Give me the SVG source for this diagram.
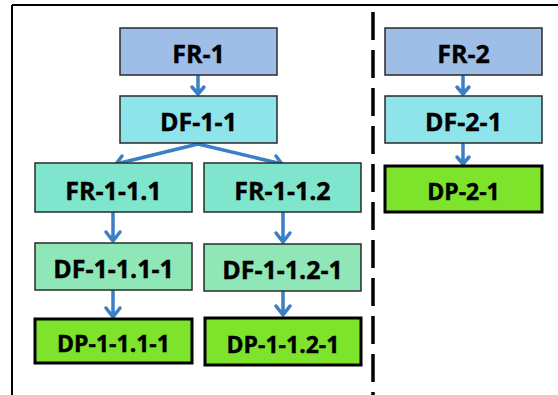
<svg xmlns="http://www.w3.org/2000/svg" width="558" height="395" viewBox="0 0 558 395">
<style>
.box{stroke:#2a2a2a;stroke-width:1.5}
.dp{stroke:#000;stroke-width:3}
.fr{fill:#9ebee8}
.df{fill:#8fe3ea}
.fr2{fill:#80e5cd}
.df2{fill:#8fe6b6}
.dpf{fill:#7de32b}
text{font-family:"Open Sans","Liberation Sans",sans-serif;font-weight:bold;font-size:25px;fill:#000;text-anchor:middle;stroke:#000;stroke-width:0.4}
text.s{font-size:23px}
.arr{stroke:#3b7fc4;stroke-width:3.5;fill:none;stroke-linecap:round;stroke-linejoin:round}
</style>
<rect width="558" height="395" fill="#fff"/>
<g id="frame" fill="none" stroke="#000" stroke-width="2">
<line x1="12" y1="5" x2="558" y2="5"/>
<line x1="12" y1="5" x2="12" y2="395"/>
<line x1="373" y1="12" x2="373" y2="395" stroke-width="3.5" stroke-dasharray="28 10"/>
</g>
<g id="connectors" class="arr">
<path d="M198 76 V94 M192 87 L198 94 L204 87"/>
<path d="M198 144 L116 164 M122 156 L116 164 L125 167"/>
<path d="M198 144 L282 164 M273 167 L282 164 L276 156"/>
<path d="M113 213 V241 M106 232 L113 241 L120 232"/>
<path d="M283 213 V242 M276 233 L283 242 L290 233"/>
<path d="M113 291 V317 M106 308 L113 317 L120 308"/>
<path d="M283 292 V315 M276 306 L283 315 L290 306"/>
<path d="M463 76 V94 M457 87 L463 94 L469 87"/>
<path d="M463 144 V164 M457 157 L463 164 L469 157"/>
</g>
<g id="FR-1"><rect class="box fr" x="120" y="28" width="157" height="47"/><text x="198.5" y="63">FR-1</text></g>
<g id="DF-1-1"><rect class="box df" x="120" y="96" width="157" height="47"/><text x="198.5" y="131">DF-1-1</text></g>
<g id="FR-1-1.1"><rect class="box fr2" x="35" y="163" width="157" height="49"/><text x="113.5" y="200">FR-1-1.1</text></g>
<g id="FR-1-1.2"><rect class="box fr2" x="204" y="163" width="157" height="49"/><text x="282.5" y="200">FR-1-1.2</text></g>
<g id="DF-1-1.1-1"><rect class="box df2" x="35" y="243" width="157" height="47"/><text x="113.5" y="278">DF-1-1.1-1</text></g>
<g id="DF-1-1.2-1"><rect class="box df2" x="204" y="244" width="157" height="47"/><text x="282.5" y="279">DF-1-1.2-1</text></g>
<g id="DP-1-1.1-1"><rect class="dp dpf" x="35" y="319" width="157" height="44"/><text class="s" x="113.5" y="352">DP-1-1.1-1</text></g>
<g id="DP-1-1.2-1"><rect class="dp dpf" x="205" y="318" width="156" height="47"/><text class="s" x="283" y="353">DP-1-1.2-1</text></g>
<g id="FR-2"><rect class="box fr" x="385" y="28" width="157" height="47"/><text x="463.5" y="63">FR-2</text></g>
<g id="DF-2-1"><rect class="box df" x="385" y="96" width="157" height="47"/><text x="463.5" y="131">DF-2-1</text></g>
<g id="DP-2-1"><rect class="dp dpf" x="385" y="166" width="157" height="46"/><text class="s" x="463.5" y="200">DP-2-1</text></g>
</svg>
